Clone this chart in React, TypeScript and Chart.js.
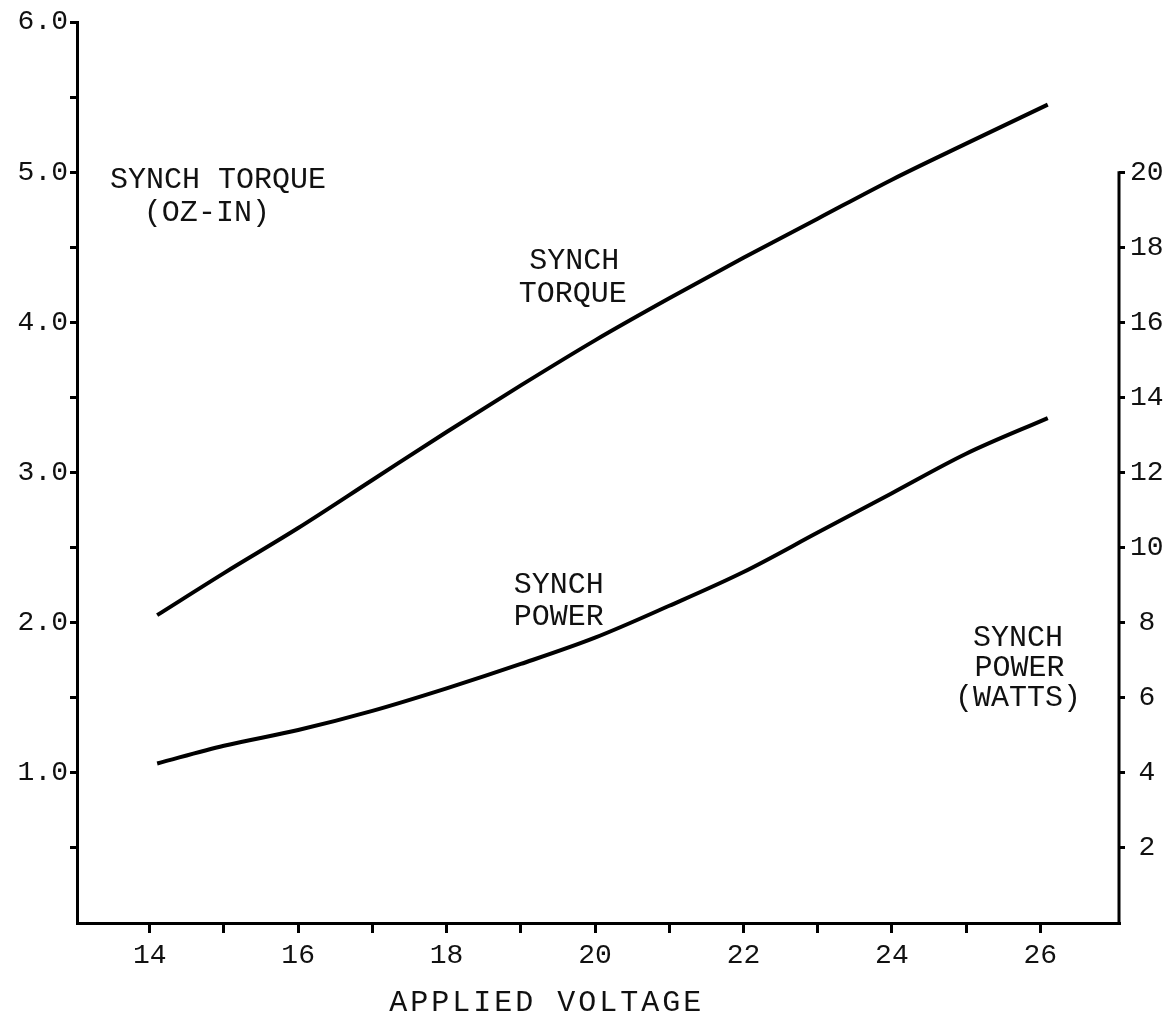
import React, { useEffect, useRef } from 'react';
import { Chart, registerables } from 'chart.js';

Chart.register(...registerables);

// ---- data ----
const voltage = [14.1, 15, 16, 17, 18, 19, 20, 21, 22, 23, 24, 25, 26.1];
const torqueOzIn = [2.05, 2.33, 2.63, 2.95, 3.27, 3.58, 3.88, 4.16, 4.43, 4.69, 4.95, 5.19, 5.45];
const powerWatts = [4.25, 4.72, 5.14, 5.65, 6.25, 6.9, 7.6, 8.45, 9.35, 10.4, 11.45, 12.5, 13.45];
const voltageTicks = [14, 15, 16, 17, 18, 19, 20, 21, 22, 23, 24, 25, 26];
const voltageLabels = [14, 16, 18, 20, 22, 24, 26];
const torqueTickLabels = [1, 2, 3, 4, 5, 6];
const powerTickLabels = [2, 4, 6, 8, 10, 12, 14, 16, 18, 20];

const FONT = "'Liberation Mono', 'DejaVu Sans Mono', monospace";

// text annotations (x in volts, y in left-axis units)
const notes = [
  { text: 'SYNCH TORQUE', x: 14.92, y: 4.95 },
  { text: '(OZ-IN)', x: 14.77, y: 4.73 },
  { text: 'SYNCH', x: 19.72, y: 4.41 },
  { text: 'TORQUE', x: 19.7, y: 4.19 },
  { text: 'SYNCH', x: 19.51, y: 2.25 },
  { text: 'POWER', x: 19.51, y: 2.04 },
  { text: 'SYNCH', x: 25.7, y: 1.9 },
  { text: 'POWER', x: 25.72, y: 1.7 },
  { text: '(WATTS)', x: 25.7, y: 1.5 },
];

const extrasPlugin = {
  id: 'extras',
  afterDraw(chart: any) {
    const { ctx, scales, chartArea } = chart;
    const x = scales.x;
    const y = scales.y;
    const y1 = scales.y1;
    ctx.save();
    // right axis line (only from 0 up to 20)
    ctx.strokeStyle = '#000';
    ctx.lineWidth = 3;
    ctx.beginPath();
    ctx.moveTo(chartArea.right, y1.getPixelForValue(20) - 1);
    ctx.lineTo(chartArea.right, chartArea.bottom + 1.5);
    ctx.stroke();

    ctx.fillStyle = '#111';
    ctx.textAlign = 'center';
    ctx.textBaseline = 'middle';
    ctx.font = `30px ${FONT}`;
    for (const n of notes) {
      ctx.fillText(n.text, x.getPixelForValue(n.x), y.getPixelForValue(n.y));
    }
    // x axis title
    ctx.font = `30px ${FONT}`;
    try { (ctx as any).letterSpacing = '3px'; } catch (e) {}
    ctx.fillText('APPLIED VOLTAGE', x.getPixelForValue(19.35), chartArea.bottom + 80);
    try { (ctx as any).letterSpacing = '0px'; } catch (e) {}
    ctx.restore();
  },
};

export default function App() {
  const ref = useRef<HTMLCanvasElement>(null);
  useEffect(() => {
    if (!ref.current) return;
    Chart.defaults.font.family = FONT;
    const chart = new Chart(ref.current, {
      type: 'line',
      data: {
        datasets: [
          {
            label: 'Synch Torque (oz-in)',
            data: voltage.map((v, i) => ({ x: v, y: torqueOzIn[i] })),
            yAxisID: 'y',
            borderColor: '#000',
            borderWidth: 4,
            pointRadius: 0,
            cubicInterpolationMode: 'monotone',
            fill: false,
          },
          {
            label: 'Synch Power (watts)',
            data: voltage.map((v, i) => ({ x: v, y: powerWatts[i] })),
            yAxisID: 'y1',
            borderColor: '#000',
            borderWidth: 4,
            pointRadius: 0,
            cubicInterpolationMode: 'monotone',
            fill: false,
          },
        ],
      },
      options: {
        animation: false,
        responsive: false,
        maintainAspectRatio: false,
        layout: { padding: { top: 22, left: 0, right: 0, bottom: 0 } },
        plugins: { legend: { display: false }, tooltip: { enabled: false } },
        scales: {
          x: {
            type: 'linear',
            min: 13.02,
            max: 27.06,
            afterBuildTicks: (s: any) => {
              s.ticks = voltageTicks.map((v) => ({ value: v }));
            },
            afterFit: (s: any) => {
              s.height = 100;
            },
            border: { display: true, color: '#000', width: 3 },
            grid: { drawOnChartArea: false, drawTicks: true, tickLength: 10, color: '#000', lineWidth: 3 },
            ticks: {
              autoSkip: false,
              maxRotation: 0,
              padding: 6,
              color: '#111',
              font: { size: 28 },
              callback: (v: any) => (voltageLabels.includes(Number(v)) ? String(v) : ''),
            },
          },
          y: {
            type: 'linear',
            position: 'left',
            min: 0,
            max: 6,
            afterBuildTicks: (s: any) => {
              const t = [];
              for (let i = 0; i <= 12; i++) t.push({ value: i * 0.5 });
              s.ticks = t;
            },
            afterFit: (s: any) => {
              s.width = 77;
            },
            border: { display: true, color: '#000', width: 3 },
            grid: { drawOnChartArea: false, drawTicks: true, tickLength: 7, color: '#000', lineWidth: 3 },
            ticks: {
              padding: 2,
              color: '#111',
              font: { size: 28 },
              callback: (v: any) => {
                const n = Number(v);
                if (n === 0) return null;
                return torqueTickLabels.includes(n) ? n.toFixed(1) : '';
              },
            },
          },
          y1: {
            type: 'linear',
            position: 'right',
            min: 0,
            max: 24,
            afterBuildTicks: (s: any) => {
              s.ticks = powerTickLabels.map((v) => ({ value: v }));
            },
            afterFit: (s: any) => {
              s.width = 56;
            },
            border: { display: false },
            grid: { drawOnChartArea: false, drawTicks: true, tickLength: 6, color: '#000', lineWidth: 3 },
            ticks: {
              padding: 5,
              color: '#111',
              crossAlign: 'center',
              font: { size: 28 },
              callback: (v: any) => String(v),
            },
          },
        },
      },
      plugins: [extrasPlugin],
    } as any);
    return () => chart.destroy();
  }, []);

  return (
    <div style={{ position: 'fixed', left: 0, top: 0, width: 1175, height: 1023, background: '#fff' }}>
      <canvas ref={ref} width={1175} height={1023} style={{ width: 1175, height: 1023 }} />
    </div>
  );
}
